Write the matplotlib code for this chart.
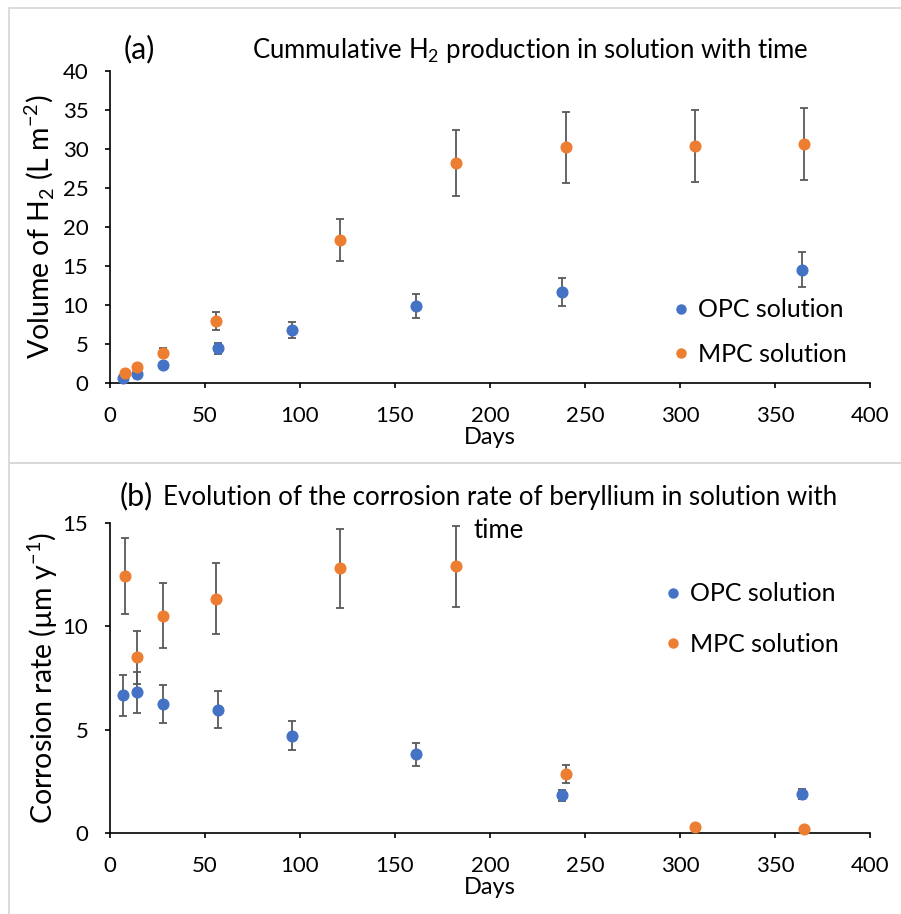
import matplotlib
matplotlib.use("Agg")
import matplotlib.pyplot as plt
from matplotlib.lines import Line2D
from matplotlib.patches import Rectangle

plt.rcParams['font.family'] = ['Lato', 'DejaVu Sans']
plt.rcParams['mathtext.fontset'] = 'custom'
plt.rcParams['mathtext.rm'] = 'Lato'

BLUE, ORANGE, ERR, FRAME = "#4472C4", "#ED7D31", "#595959", "#D9D9D9"

# (a) cumulative H2 volume, L m-2
opc_days_a = [7, 14, 28, 57, 96, 161, 238, 364]
opc_h2 = [0.7, 1.2, 2.3, 4.45, 6.8, 9.85, 11.65, 14.55]
opc_h2_err = [0.2, 0.3, 0.3, 0.7, 1.0, 1.5, 1.75, 2.2]
mpc_days_a = [8, 14, 28, 56, 121, 182, 240, 308, 365]
mpc_h2 = [1.3, 2.05, 3.9, 7.95, 18.3, 28.2, 30.2, 30.4, 30.6]
mpc_h2_err = [0.2, 0.3, 0.6, 1.2, 2.7, 4.2, 4.55, 4.6, 4.6]

# (b) corrosion rate, um/y
opc_days_b = [7, 14, 28, 57, 96, 161, 238, 364]
opc_rate = [6.66, 6.8, 6.23, 5.97, 4.71, 3.8, 1.83, 1.88]
opc_rate_err = [1.0, 1.0, 0.92, 0.9, 0.71, 0.57, 0.26, 0.25]
mpc_days_b = [8, 14, 28, 56, 121, 182, 240, 308, 365]
mpc_rate = [12.44, 8.51, 10.52, 11.33, 12.8, 12.9, 2.85, 0.28, 0.19]
mpc_rate_err = [1.85, 1.28, 1.58, 1.72, 1.93, 1.95, 0.43, 0.05, 0.05]

W, H = 901, 914
fig = plt.figure(figsize=(W/100, H/100), dpi=100)

def fx(px): return px / W
def fy(py): return 1 - py / H

# light grey chart-area frames
fig.patches.append(Rectangle((fx(9), fy(463)), 1.0, fy(8) - fy(463), transform=fig.transFigure,
                             fill=False, ec=FRAME, lw=1.3))
fig.patches.append(Rectangle((fx(9), -0.05), 1.0, fy(463) + 0.05, transform=fig.transFigure,
                             fill=False, ec=FRAME, lw=1.3))

def style(ax, ymax, ylabel, ylsize, ylpad):
    ax.set_xlim(0, 400); ax.set_ylim(0, ymax)
    ax.set_xticks(range(0, 401, 50)); ax.set_yticks(range(0, ymax + 1, 5))
    for s in ['top', 'right']: ax.spines[s].set_visible(False)
    for s in ['left', 'bottom']: ax.spines[s].set_linewidth(1.2)
    ax.tick_params(direction='out', length=3.6, width=1.2, labelsize=16)
    ax.tick_params(axis='x', pad=13)
    ax.tick_params(axis='y', pad=12)
    ax.set_xlabel("Days", fontsize=17, labelpad=1)
    ax.set_ylabel(ylabel, fontsize=ylsize, labelpad=ylpad)

def series(ax, x, y, e, col):
    ax.errorbar(x, y, yerr=e, fmt='o', ms=7.7, mfc=col, mec=col, ecolor=ERR,
                elinewidth=1.3, capsize=2.8, capthick=1.3, clip_on=False, zorder=3)

def legend(ax, anchor, spacing):
    hs = [Line2D([0], [0], marker='o', ls='', mfc=c, mec=c, ms=6.5) for c in (BLUE, ORANGE)]
    ax.legend(hs, ["OPC solution", "MPC solution"], loc='center left', bbox_to_anchor=anchor,
              frameon=False, fontsize=18, handlelength=0.8, handletextpad=0.3,
              labelspacing=spacing, borderpad=0, borderaxespad=0)

ax1 = fig.add_axes([fx(110), fy(383), fx(870) - fx(110), fy(71) - fy(383)])
series(ax1, opc_days_a, opc_h2, opc_h2_err, BLUE)
series(ax1, mpc_days_a, mpc_h2, mpc_h2_err, ORANGE)
style(ax1, 40, r"Volume of H$_\mathregular{2}$ (L m$^\mathregular{-2}$)", 20.5, 4)
legend(ax1, (0.738, 0.1635), 0.85)
fig.text(fx(124), fy(58), "(a)", fontsize=22, va='baseline', ha='left')
fig.text(fx(252), fy(58), r"Cummulative H$_\mathregular{2}$ production in solution with time",
         fontsize=18.5, va='baseline', ha='left')

ax2 = fig.add_axes([fx(110), fy(833), fx(870) - fx(110), fy(523) - fy(833)])
series(ax2, opc_days_b, opc_rate, opc_rate_err, BLUE)
series(ax2, mpc_days_b, mpc_rate, mpc_rate_err, ORANGE)
style(ax2, 15, "Corrosion rate (µm y$^\mathregular{-1}$)", 20.5, 2)
legend(ax2, (0.7276, 0.690), 1.1)
fig.text(fx(120), fy(505), "(b)", fontsize=22, va='baseline', ha='left')
fig.text(fx(163), fy(505), "Evolution of the corrosion rate of beryllium in solution with",
         fontsize=18.6, va='baseline', ha='left')
fig.text(fx(499), fy(538), "time", fontsize=18.6, va='baseline', ha='center')

fig.savefig("out.png", dpi=100)
